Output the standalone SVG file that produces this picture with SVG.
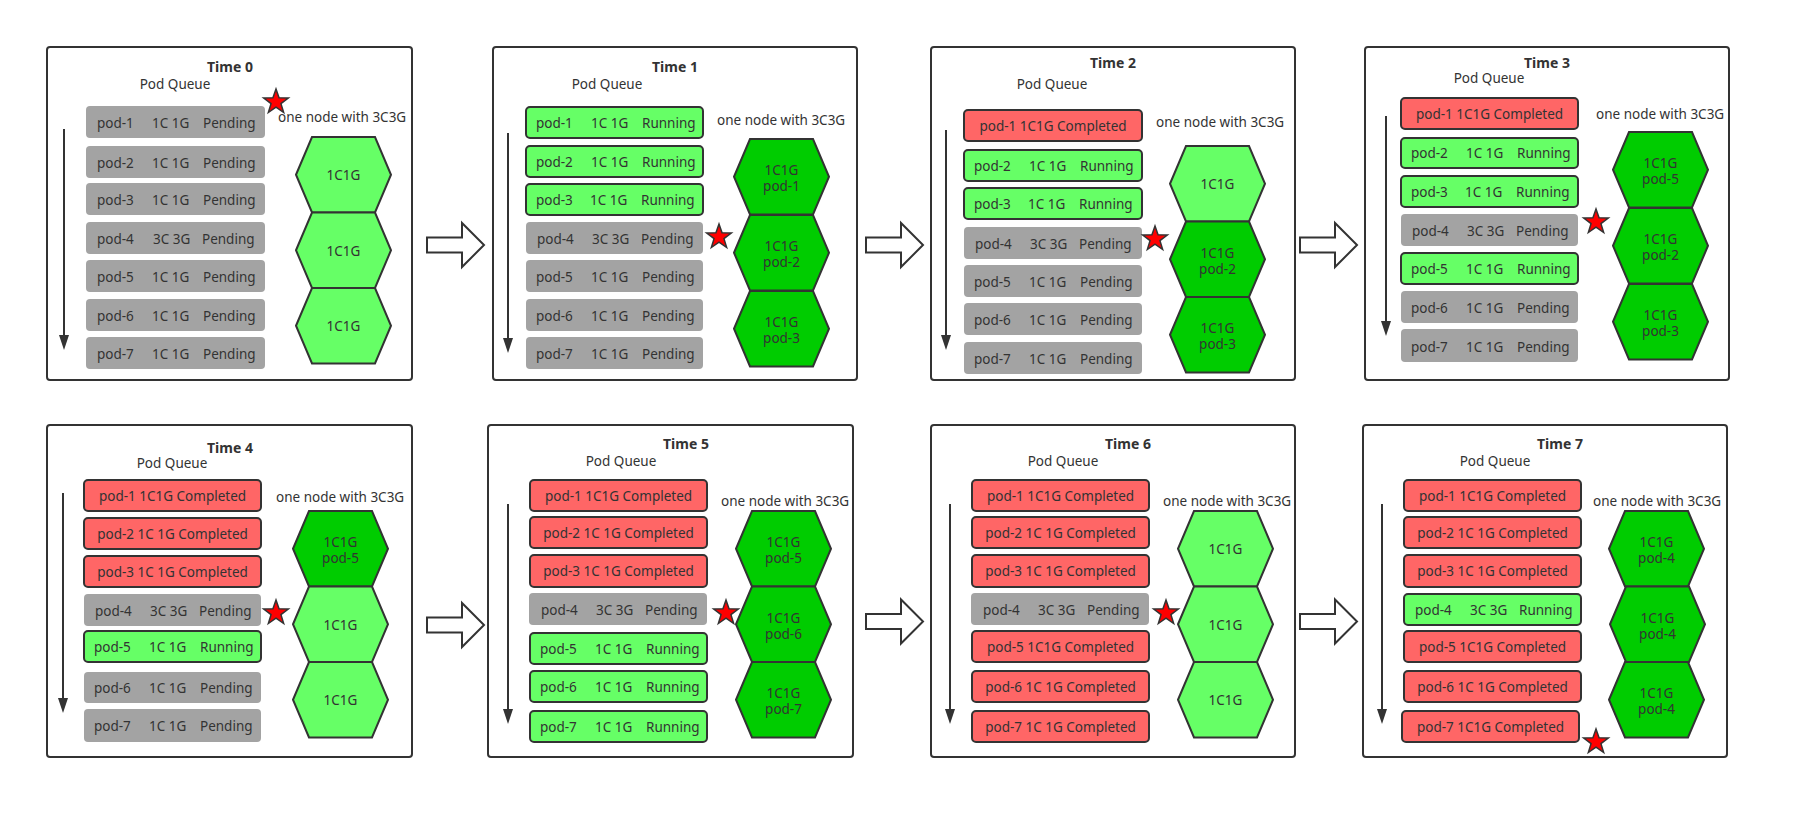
<svg xmlns="http://www.w3.org/2000/svg" width="1802" height="818" viewBox="0 0 1802 818">
<style>
text{font-family:"Noto Sans","Open Sans","Liberation Sans",sans-serif;font-size:13.5px;fill:#333}
.title{font-weight:bold;font-size:14px;text-anchor:middle}
.c{text-anchor:middle}
.frame{fill:#fff;stroke:#333;stroke-width:2}
.pend{fill:#a3a3a3}
.run{fill:#66ff66;stroke:#333;stroke-width:2}
.done{fill:#ff6666;stroke:#333;stroke-width:2}
.hl{fill:#66ff66;stroke:#333;stroke-width:2}
.hd{fill:#00cc00;stroke:#333;stroke-width:2}
.q{stroke:#333;stroke-width:2;fill:none}
.star{fill:#ff0000;stroke:#333;stroke-width:1.5}
.barrow{fill:#fff;stroke:#333;stroke-width:2}
</style>
<defs>
<polygon id="hx" points="0,37.75 16,0 79,0 95,37.75 79,75.5 16,75.5"/>
<polygon id="st" points="0,-13 3.06,-4.21 12.36,-4.02 4.95,1.61 7.64,10.52 0,5.2 -7.64,10.52 -4.95,1.61 -12.36,-4.02 -3.06,-4.21"/>
<marker id="ah" markerUnits="userSpaceOnUse" viewBox="0 0 15 10" markerWidth="15" markerHeight="10" refX="3" refY="5" orient="auto"><path d="M0,0 L15,5 L0,10 z" fill="#333"/></marker>
</defs>
<rect width="1802" height="818" fill="#fff"/>

<g id="connectors">
<polygon class="barrow" points="427,237.5 462,237.5 462,223 484,245 462,267 462,252.5 427,252.5"/>
<polygon class="barrow" points="866,237.5 901,237.5 901,223 923,245 901,267 901,252.5 866,252.5"/>
<polygon class="barrow" points="1300,237.5 1335,237.5 1335,223 1357,245 1335,267 1335,252.5 1300,252.5"/>
<polygon class="barrow" points="427,617.5 462,617.5 462,603 484,625 462,647 462,632.5 427,632.5"/>
<polygon class="barrow" points="866,614 901,614 901,599.5 923,621.5 901,643.5 901,629 866,629"/>
<polygon class="barrow" points="1300,614 1335,614 1335,599.5 1357,621.5 1335,643.5 1335,629 1300,629"/>
</g>

<!-- Time 0 -->
<g id="time0">
<rect class="frame" x="47" y="47" width="365" height="333" rx="3"/>
<text class="title" x="230" y="72">Time 0</text>
<text class="c" x="175" y="89">Pod Queue</text>
<line class="q" x1="64" y1="129" x2="64" y2="338" marker-end="url(#ah)"/>
<text x="278" y="122">one node with 3C3G</text>
<g id="t0-pod1"><rect class="pend" x="86" y="106" width="179" height="32" rx="4"/><text y="128"><tspan x="97">pod-1</tspan><tspan x="152">1C 1G</tspan><tspan x="203">Pending</tspan></text></g>
<g id="t0-pod2"><rect class="pend" x="86" y="146" width="179" height="32" rx="4"/><text y="168"><tspan x="97">pod-2</tspan><tspan x="152">1C 1G</tspan><tspan x="203">Pending</tspan></text></g>
<g id="t0-pod3"><rect class="pend" x="86" y="183" width="179" height="32" rx="4"/><text y="205"><tspan x="97">pod-3</tspan><tspan x="152">1C 1G</tspan><tspan x="203">Pending</tspan></text></g>
<g id="t0-pod4"><rect class="pend" x="86" y="222" width="179" height="32" rx="4"/><text y="244"><tspan x="97">pod-4</tspan><tspan x="153">3C 3G</tspan><tspan x="202">Pending</tspan></text></g>
<g id="t0-pod5"><rect class="pend" x="86" y="260" width="179" height="32" rx="4"/><text y="282"><tspan x="97">pod-5</tspan><tspan x="152">1C 1G</tspan><tspan x="203">Pending</tspan></text></g>
<g id="t0-pod6"><rect class="pend" x="86" y="299" width="179" height="32" rx="4"/><text y="321"><tspan x="97">pod-6</tspan><tspan x="152">1C 1G</tspan><tspan x="203">Pending</tspan></text></g>
<g id="t0-pod7"><rect class="pend" x="86" y="337" width="179" height="32" rx="4"/><text y="359"><tspan x="97">pod-7</tspan><tspan x="152">1C 1G</tspan><tspan x="203">Pending</tspan></text></g>
<g id="t0-hex1"><use href="#hx" x="296" y="137" class="hl"/><text class="c" x="343.5" y="180">1C1G</text></g>
<g id="t0-hex2"><use href="#hx" x="296" y="212.5" class="hl"/><text class="c" x="343.5" y="255.5">1C1G</text></g>
<g id="t0-hex3"><use href="#hx" x="296" y="288" class="hl"/><text class="c" x="343.5" y="331">1C1G</text></g>
<use href="#st" x="276" y="102" class="star"/>
</g>

<!-- Time 1 -->
<g id="time1">
<rect class="frame" x="493" y="47" width="364" height="333" rx="3"/>
<text class="title" x="675" y="72">Time 1</text>
<text class="c" x="607" y="89">Pod Queue</text>
<line class="q" x1="508" y1="133" x2="508" y2="341" marker-end="url(#ah)"/>
<text x="717" y="125">one node with 3C3G</text>
<g id="t1-pod1"><rect class="run" x="526" y="107" width="177" height="31" rx="4"/><text y="128"><tspan x="536">pod-1</tspan><tspan x="591">1C 1G</tspan><tspan x="642">Running</tspan></text></g>
<g id="t1-pod2"><rect class="run" x="526" y="146" width="177" height="31" rx="4"/><text y="167"><tspan x="536">pod-2</tspan><tspan x="591">1C 1G</tspan><tspan x="642">Running</tspan></text></g>
<g id="t1-pod3"><rect class="run" x="526" y="184" width="177" height="31" rx="4"/><text y="205"><tspan x="536">pod-3</tspan><tspan x="590">1C 1G</tspan><tspan x="641">Running</tspan></text></g>
<g id="t1-pod4"><rect class="pend" x="526" y="222" width="177" height="32" rx="4"/><text y="244"><tspan x="537">pod-4</tspan><tspan x="592">3C 3G</tspan><tspan x="641">Pending</tspan></text></g>
<g id="t1-pod5"><rect class="pend" x="526" y="260" width="177" height="32" rx="4"/><text y="282"><tspan x="536">pod-5</tspan><tspan x="591">1C 1G</tspan><tspan x="642">Pending</tspan></text></g>
<g id="t1-pod6"><rect class="pend" x="526" y="299" width="177" height="32" rx="4"/><text y="321"><tspan x="536">pod-6</tspan><tspan x="591">1C 1G</tspan><tspan x="642">Pending</tspan></text></g>
<g id="t1-pod7"><rect class="pend" x="526" y="337" width="177" height="32" rx="4"/><text y="359"><tspan x="536">pod-7</tspan><tspan x="591">1C 1G</tspan><tspan x="642">Pending</tspan></text></g>
<g id="t1-hex1"><use href="#hx" x="734" y="139" class="hd"/><text class="c" x="781.5" y="175">1C1G</text><text class="c" x="781.5" y="191">pod-1</text></g>
<g id="t1-hex2"><use href="#hx" x="734" y="215" class="hd"/><text class="c" x="781.5" y="251">1C1G</text><text class="c" x="781.5" y="267">pod-2</text></g>
<g id="t1-hex3"><use href="#hx" x="734" y="291" class="hd"/><text class="c" x="781.5" y="327">1C1G</text><text class="c" x="781.5" y="343">pod-3</text></g>
<use href="#st" x="719" y="237" class="star"/>
</g>

<!-- Time 2 -->
<g id="time2">
<rect class="frame" x="931" y="47" width="364" height="333" rx="3"/>
<text class="title" x="1113" y="68">Time 2</text>
<text class="c" x="1052" y="89">Pod Queue</text>
<line class="q" x1="946" y1="130" x2="946" y2="338" marker-end="url(#ah)"/>
<text x="1156" y="127">one node with 3C3G</text>
<g id="t2-pod1"><rect class="done" x="964" y="110" width="178" height="31" rx="4"/><text class="c" x="1053" y="131">pod-1 1C1G Completed</text></g>
<g id="t2-pod2"><rect class="run" x="964" y="150" width="178" height="31" rx="4"/><text y="171"><tspan x="974">pod-2</tspan><tspan x="1029">1C 1G</tspan><tspan x="1080">Running</tspan></text></g>
<g id="t2-pod3"><rect class="run" x="964" y="188" width="178" height="31" rx="4"/><text y="209"><tspan x="974">pod-3</tspan><tspan x="1028">1C 1G</tspan><tspan x="1079">Running</tspan></text></g>
<g id="t2-pod4"><rect class="pend" x="964" y="227" width="178" height="32" rx="4"/><text y="249"><tspan x="975">pod-4</tspan><tspan x="1030">3C 3G</tspan><tspan x="1079">Pending</tspan></text></g>
<g id="t2-pod5"><rect class="pend" x="964" y="265" width="178" height="32" rx="4"/><text y="287"><tspan x="974">pod-5</tspan><tspan x="1029">1C 1G</tspan><tspan x="1080">Pending</tspan></text></g>
<g id="t2-pod6"><rect class="pend" x="964" y="303" width="178" height="32" rx="4"/><text y="325"><tspan x="974">pod-6</tspan><tspan x="1029">1C 1G</tspan><tspan x="1080">Pending</tspan></text></g>
<g id="t2-pod7"><rect class="pend" x="964" y="342" width="178" height="32" rx="4"/><text y="364"><tspan x="974">pod-7</tspan><tspan x="1029">1C 1G</tspan><tspan x="1080">Pending</tspan></text></g>
<g id="t2-hex1"><use href="#hx" x="1170" y="146" class="hl"/><text class="c" x="1217.5" y="189">1C1G</text></g>
<g id="t2-hex2"><use href="#hx" x="1170" y="221.5" class="hd"/><text class="c" x="1217.5" y="257.5">1C1G</text><text class="c" x="1217.5" y="273.5">pod-2</text></g>
<g id="t2-hex3"><use href="#hx" x="1170" y="297" class="hd"/><text class="c" x="1217.5" y="333">1C1G</text><text class="c" x="1217.5" y="349">pod-3</text></g>
<use href="#st" x="1155" y="239" class="star"/>
</g>

<!-- Time 3 -->
<g id="time3">
<rect class="frame" x="1365" y="47" width="364" height="333" rx="3"/>
<text class="title" x="1547" y="68">Time 3</text>
<text class="c" x="1489" y="83">Pod Queue</text>
<line class="q" x1="1386" y1="116" x2="1386" y2="324" marker-end="url(#ah)"/>
<text x="1596" y="119">one node with 3C3G</text>
<g id="t3-pod1"><rect class="done" x="1401" y="98" width="177" height="31" rx="4"/><text class="c" x="1489.5" y="119">pod-1 1C1G Completed</text></g>
<g id="t3-pod2"><rect class="run" x="1401" y="138" width="177" height="30" rx="4"/><text y="158"><tspan x="1411">pod-2</tspan><tspan x="1466">1C 1G</tspan><tspan x="1517">Running</tspan></text></g>
<g id="t3-pod3"><rect class="run" x="1401" y="176" width="177" height="31" rx="4"/><text y="197"><tspan x="1411">pod-3</tspan><tspan x="1465">1C 1G</tspan><tspan x="1516">Running</tspan></text></g>
<g id="t3-pod4"><rect class="pend" x="1401" y="214" width="177" height="32" rx="4"/><text y="236"><tspan x="1412">pod-4</tspan><tspan x="1467">3C 3G</tspan><tspan x="1516">Pending</tspan></text></g>
<g id="t3-pod5"><rect class="run" x="1401" y="253" width="177" height="31" rx="4"/><text y="274"><tspan x="1411">pod-5</tspan><tspan x="1466">1C 1G</tspan><tspan x="1517">Running</tspan></text></g>
<g id="t3-pod6"><rect class="pend" x="1401" y="291" width="177" height="32" rx="4"/><text y="313"><tspan x="1411">pod-6</tspan><tspan x="1466">1C 1G</tspan><tspan x="1517">Pending</tspan></text></g>
<g id="t3-pod7"><rect class="pend" x="1401" y="329" width="177" height="33" rx="4"/><text y="352"><tspan x="1411">pod-7</tspan><tspan x="1466">1C 1G</tspan><tspan x="1517">Pending</tspan></text></g>
<g id="t3-hex1"><use href="#hx" x="1613" y="132" class="hd"/><text class="c" x="1660.5" y="168">1C1G</text><text class="c" x="1660.5" y="184">pod-5</text></g>
<g id="t3-hex2"><use href="#hx" x="1613" y="208" class="hd"/><text class="c" x="1660.5" y="244">1C1G</text><text class="c" x="1660.5" y="260">pod-2</text></g>
<g id="t3-hex3"><use href="#hx" x="1613" y="284" class="hd"/><text class="c" x="1660.5" y="320">1C1G</text><text class="c" x="1660.5" y="336">pod-3</text></g>
<use href="#st" x="1596" y="222" class="star"/>
</g>

<!-- Time 4 -->
<g id="time4">
<rect class="frame" x="47" y="425" width="365" height="332" rx="3"/>
<text class="title" x="230" y="453">Time 4</text>
<text class="c" x="172" y="468">Pod Queue</text>
<line class="q" x1="63" y1="493" x2="63" y2="701" marker-end="url(#ah)"/>
<text x="276" y="502">one node with 3C3G</text>
<g id="t4-pod1"><rect class="done" x="84" y="480" width="177" height="31" rx="4"/><text class="c" x="172.5" y="501">pod-1 1C1G Completed</text></g>
<g id="t4-pod2"><rect class="done" x="84" y="518" width="177" height="31" rx="4"/><text class="c" x="172.5" y="539">pod-2 1C 1G Completed</text></g>
<g id="t4-pod3"><rect class="done" x="84" y="556" width="177" height="31" rx="4"/><text class="c" x="172.5" y="577">pod-3 1C 1G Completed</text></g>
<g id="t4-pod4"><rect class="pend" x="84" y="594" width="177" height="32" rx="4"/><text y="616"><tspan x="95">pod-4</tspan><tspan x="150">3C 3G</tspan><tspan x="199">Pending</tspan></text></g>
<g id="t4-pod5"><rect class="run" x="84" y="631" width="177" height="31" rx="4"/><text y="652"><tspan x="94">pod-5</tspan><tspan x="149">1C 1G</tspan><tspan x="200">Running</tspan></text></g>
<g id="t4-pod6"><rect class="pend" x="84" y="672" width="177" height="31" rx="4"/><text y="693"><tspan x="94">pod-6</tspan><tspan x="149">1C 1G</tspan><tspan x="200">Pending</tspan></text></g>
<g id="t4-pod7"><rect class="pend" x="84" y="709" width="177" height="33" rx="4"/><text y="731"><tspan x="94">pod-7</tspan><tspan x="149">1C 1G</tspan><tspan x="200">Pending</tspan></text></g>
<g id="t4-hex1"><use href="#hx" x="293" y="511" class="hd"/><text class="c" x="340.5" y="547">1C1G</text><text class="c" x="340.5" y="563">pod-5</text></g>
<g id="t4-hex2"><use href="#hx" x="293" y="586.5" class="hl"/><text class="c" x="340.5" y="629.5">1C1G</text></g>
<g id="t4-hex3"><use href="#hx" x="293" y="662" class="hl"/><text class="c" x="340.5" y="705">1C1G</text></g>
<use href="#st" x="276" y="613" class="star"/>
</g>

<!-- Time 5 -->
<g id="time5">
<rect class="frame" x="488" y="425" width="365" height="332" rx="3"/>
<text class="title" x="686" y="449">Time 5</text>
<text class="c" x="621" y="466">Pod Queue</text>
<line class="q" x1="508" y1="504" x2="508" y2="712" marker-end="url(#ah)"/>
<text x="721" y="506">one node with 3C3G</text>
<g id="t5-pod1"><rect class="done" x="530" y="480" width="177" height="31" rx="4"/><text class="c" x="618.5" y="501">pod-1 1C1G Completed</text></g>
<g id="t5-pod2"><rect class="done" x="530" y="517" width="177" height="31" rx="4"/><text class="c" x="618.5" y="538">pod-2 1C 1G Completed</text></g>
<g id="t5-pod3"><rect class="done" x="530" y="555" width="177" height="32" rx="4"/><text class="c" x="618.5" y="576">pod-3 1C 1G Completed</text></g>
<g id="t5-pod4"><rect class="pend" x="529" y="593" width="178" height="32" rx="4"/><text y="615"><tspan x="541">pod-4</tspan><tspan x="596">3C 3G</tspan><tspan x="645">Pending</tspan></text></g>
<g id="t5-pod5"><rect class="run" x="530" y="633" width="177" height="31" rx="4"/><text y="654"><tspan x="540">pod-5</tspan><tspan x="595">1C 1G</tspan><tspan x="646">Running</tspan></text></g>
<g id="t5-pod6"><rect class="run" x="530" y="671" width="177" height="31" rx="4"/><text y="692"><tspan x="540">pod-6</tspan><tspan x="595">1C 1G</tspan><tspan x="646">Running</tspan></text></g>
<g id="t5-pod7"><rect class="run" x="530" y="711" width="177" height="31" rx="4"/><text y="732"><tspan x="540">pod-7</tspan><tspan x="595">1C 1G</tspan><tspan x="646">Running</tspan></text></g>
<g id="t5-hex1"><use href="#hx" x="736" y="511" class="hd"/><text class="c" x="783.5" y="547">1C1G</text><text class="c" x="783.5" y="563">pod-5</text></g>
<g id="t5-hex2"><use href="#hx" x="736" y="586.5" class="hd"/><text class="c" x="783.5" y="622.5">1C1G</text><text class="c" x="783.5" y="638.5">pod-6</text></g>
<g id="t5-hex3"><use href="#hx" x="736" y="662" class="hd"/><text class="c" x="783.5" y="698">1C1G</text><text class="c" x="783.5" y="714">pod-7</text></g>
<use href="#st" x="726" y="613" class="star"/>
</g>

<!-- Time 6 -->
<g id="time6">
<rect class="frame" x="931" y="425" width="364" height="332" rx="3"/>
<text class="title" x="1128" y="449">Time 6</text>
<text class="c" x="1063" y="466">Pod Queue</text>
<line class="q" x1="950" y1="504" x2="950" y2="712" marker-end="url(#ah)"/>
<text x="1163" y="506">one node with 3C3G</text>
<g id="t6-pod1"><rect class="done" x="972" y="480" width="177" height="31" rx="4"/><text class="c" x="1060.5" y="501">pod-1 1C1G Completed</text></g>
<g id="t6-pod2"><rect class="done" x="972" y="517" width="177" height="31" rx="4"/><text class="c" x="1060.5" y="538">pod-2 1C 1G Completed</text></g>
<g id="t6-pod3"><rect class="done" x="972" y="555" width="177" height="32" rx="4"/><text class="c" x="1060.5" y="576">pod-3 1C 1G Completed</text></g>
<g id="t6-pod4"><rect class="pend" x="971" y="593" width="178" height="32" rx="4"/><text y="615"><tspan x="983">pod-4</tspan><tspan x="1038">3C 3G</tspan><tspan x="1087">Pending</tspan></text></g>
<g id="t6-pod5"><rect class="done" x="972" y="631" width="177" height="31" rx="4"/><text class="c" x="1060.5" y="652">pod-5 1C1G Completed</text></g>
<g id="t6-pod6"><rect class="done" x="972" y="671" width="177" height="31" rx="4"/><text class="c" x="1060.5" y="692">pod-6 1C 1G Completed</text></g>
<g id="t6-pod7"><rect class="done" x="972" y="711" width="177" height="31" rx="4"/><text class="c" x="1060.5" y="732">pod-7 1C 1G Completed</text></g>
<g id="t6-hex1"><use href="#hx" x="1178" y="511" class="hl"/><text class="c" x="1225.5" y="554">1C1G</text></g>
<g id="t6-hex2"><use href="#hx" x="1178" y="586.5" class="hl"/><text class="c" x="1225.5" y="629.5">1C1G</text></g>
<g id="t6-hex3"><use href="#hx" x="1178" y="662" class="hl"/><text class="c" x="1225.5" y="705">1C1G</text></g>
<use href="#st" x="1166" y="613" class="star"/>
</g>

<!-- Time 7 -->
<g id="time7">
<rect class="frame" x="1363" y="425" width="364" height="332" rx="3"/>
<text class="title" x="1560" y="449">Time 7</text>
<text class="c" x="1495" y="466">Pod Queue</text>
<line class="q" x1="1382" y1="504" x2="1382" y2="712" marker-end="url(#ah)"/>
<text x="1593" y="506">one node with 3C3G</text>
<g id="t7-pod1"><rect class="done" x="1404" y="480" width="177" height="31" rx="4"/><text class="c" x="1492.5" y="501">pod-1 1C1G Completed</text></g>
<g id="t7-pod2"><rect class="done" x="1404" y="517" width="177" height="31" rx="4"/><text class="c" x="1492.5" y="538">pod-2 1C 1G Completed</text></g>
<g id="t7-pod3"><rect class="done" x="1404" y="555" width="177" height="32" rx="4"/><text class="c" x="1492.5" y="576">pod-3 1C 1G Completed</text></g>
<g id="t7-pod4"><rect class="run" x="1404" y="594" width="177" height="31" rx="4"/><text y="615"><tspan x="1415">pod-4</tspan><tspan x="1470">3C 3G</tspan><tspan x="1519">Running</tspan></text></g>
<g id="t7-pod5"><rect class="done" x="1404" y="631" width="177" height="31" rx="4"/><text class="c" x="1492.5" y="652">pod-5 1C1G Completed</text></g>
<g id="t7-pod6"><rect class="done" x="1404" y="671" width="177" height="31" rx="4"/><text class="c" x="1492.5" y="692">pod-6 1C 1G Completed</text></g>
<g id="t7-pod7"><rect class="done" x="1402" y="711" width="177" height="31" rx="4"/><text class="c" x="1490.5" y="732">pod-7 1C1G Completed</text></g>
<g id="t7-hex1"><use href="#hx" x="1609" y="511" class="hd"/><text class="c" x="1656.5" y="547">1C1G</text><text class="c" x="1656.5" y="563">pod-4</text></g>
<g id="t7-hex2"><use href="#hx" x="1610" y="586.5" class="hd"/><text class="c" x="1657.5" y="622.5">1C1G</text><text class="c" x="1657.5" y="638.5">pod-4</text></g>
<g id="t7-hex3"><use href="#hx" x="1609" y="662" class="hd"/><text class="c" x="1656.5" y="698">1C1G</text><text class="c" x="1656.5" y="714">pod-4</text></g>
<use href="#st" x="1596" y="742" class="star"/>
</g>
</svg>
